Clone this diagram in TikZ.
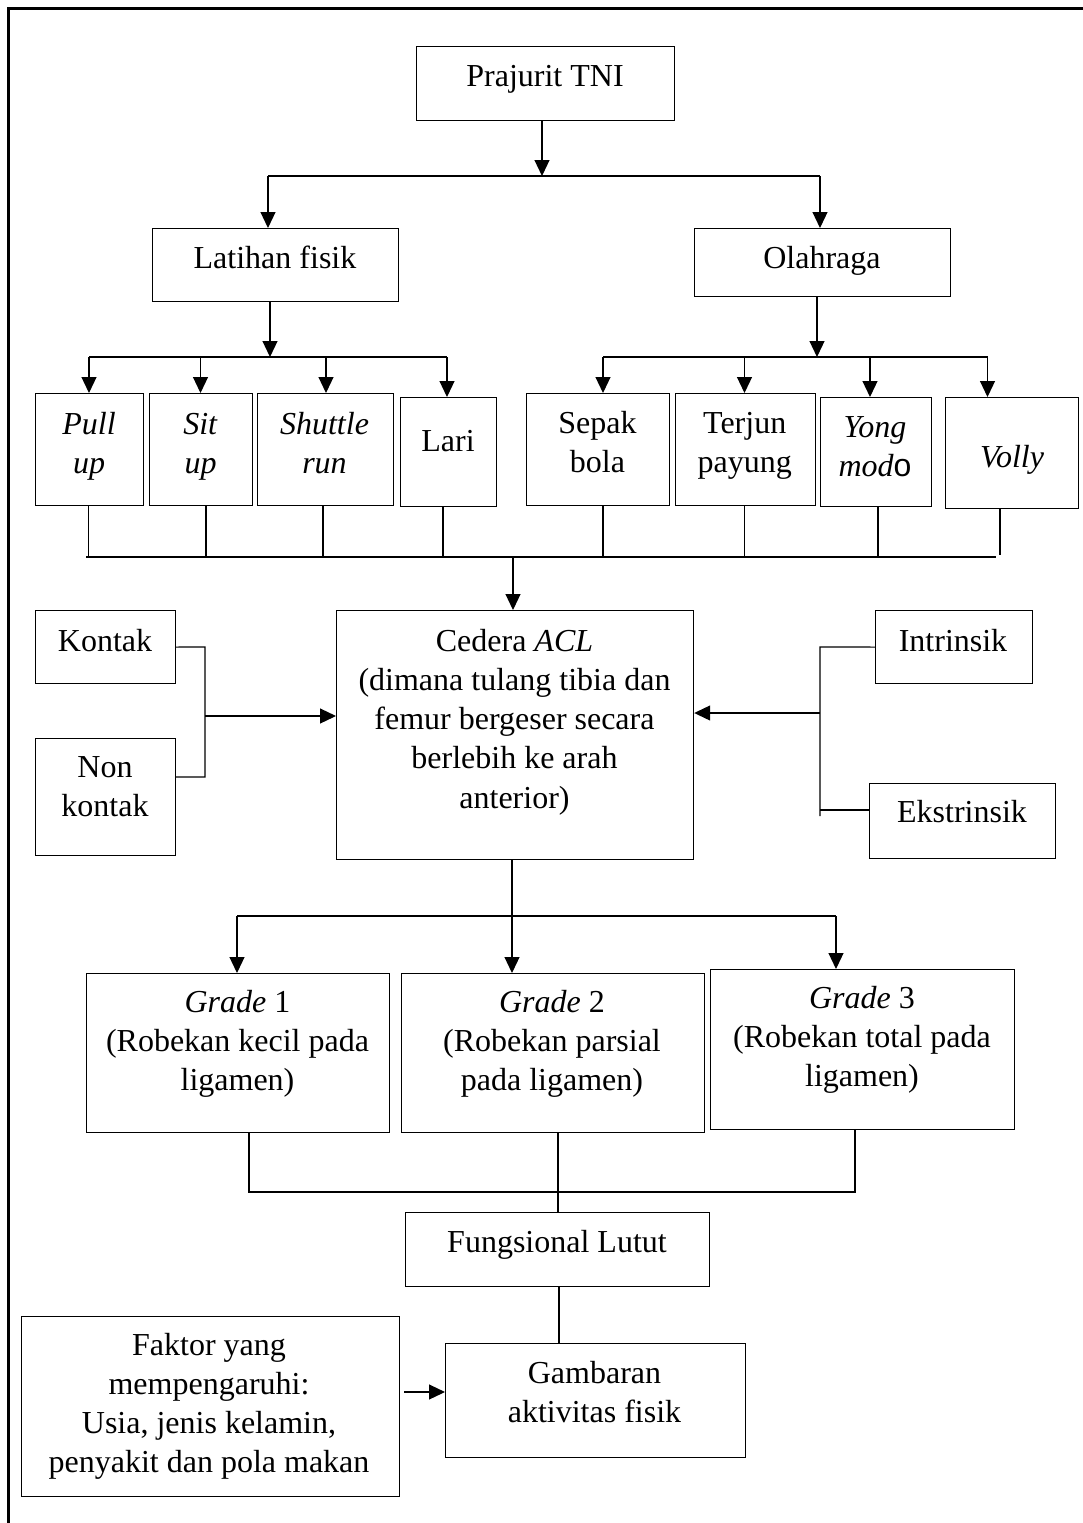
\documentclass[tikz,border=0pt]{standalone}
\usepackage{fontspec}
\setmainfont{Liberation Serif}
\newfontfamily\arialfont{Liberation Sans}
\usetikzlibrary{arrows.meta}
\newcommand\mlines[1]{\begin{tabular}[t]{@{}c@{}}#1\end{tabular}}
\tikzset{
  box/.style={draw, line width=1.2pt, inner sep=0pt, anchor=north west},
  lbl/.style={anchor=base, inner sep=0pt, font=\fontsize{32}{39.25}\selectfont},
  ln/.style={line width=1.2pt},
  arr/.style={line width=1.2pt, -{Triangle[length=16pt,width=15pt]}},
  frameline/.style={line width=2.7pt}
}
\begin{document}
\begin{tikzpicture}[x=1pt,y=-1pt]
\useasboundingbox (0,0) rectangle (1083,1523);
% outer frame (cut off)
\draw[frameline] (8.7,1523) -- (8.7,8.7) -- (1083,8.7);

% boxes
\node[box, minimum width=258pt, minimum height=74pt] (tni) at (416,46) {};
\node[box, minimum width=246pt, minimum height=73pt] (lat) at (152,228) {};
\node[box, minimum width=256pt, minimum height=68pt] (ola) at (694,228) {};
\node[box, minimum width=108pt, minimum height=112pt] (pull) at (35,393) {};
\node[box, minimum width=103pt, minimum height=112pt] (sit) at (149,393) {};
\node[box, minimum width=136pt, minimum height=112pt] (shut) at (256.5,393) {};
\node[box, minimum width=96pt, minimum height=109pt] (lari) at (400,397) {};
\node[box, minimum width=143.5pt, minimum height=112pt] (sepak) at (525.5,393) {};
\node[box, minimum width=139.5pt, minimum height=112pt] (terjun) at (675,393) {};
\node[box, minimum width=111pt, minimum height=109pt] (yong) at (820,397) {};
\node[box, minimum width=133pt, minimum height=111pt] (volly) at (945,397) {};
\node[box, minimum width=357pt, minimum height=249pt] (ced) at (336,610) {};
\node[box, minimum width=140pt, minimum height=73pt] (kon) at (35,610) {};
\node[box, minimum width=140pt, minimum height=117pt] (non) at (35,738) {};
\node[box, minimum width=157pt, minimum height=73pt] (intr) at (875,610) {};
\node[box, minimum width=186pt, minimum height=75pt] (ekst) at (869,783) {};
\node[box, minimum width=303pt, minimum height=159pt] (g1) at (86,973) {};
\node[box, minimum width=303.5pt, minimum height=159pt] (g2) at (400.5,973) {};
\node[box, minimum width=304pt, minimum height=160pt] (g3) at (710,969) {};
\node[box, minimum width=304pt, minimum height=74pt] (fung) at (405,1212) {};
\node[box, minimum width=300pt, minimum height=114pt] (gamb) at (445,1343) {};
\node[box, minimum width=377.5pt, minimum height=180pt] (fak) at (21,1316) {};

% labels
\node[lbl] (tni-t) at (545,86) {Prajurit TNI};
\node[lbl] (lat-t) at (275,268) {Latihan fisik};
\node[lbl] (ola-t) at (822,268) {Olahraga};
\node[lbl] (pull-t) at (89,434) {\mlines{\textit{Pull}\\\textit{up}}};
\node[lbl] (sit-t) at (200.5,434) {\mlines{\textit{Sit}\\\textit{up}}};
\node[lbl] (shut-t) at (324.5,434) {\mlines{\textit{Shuttle}\\\textit{run}}};
\node[lbl] (lari-t) at (448,451) {Lari};
\node[lbl] (sepak-t) at (597.5,433) {\mlines{Sepak\\bola}};
\node[lbl] (terjun-t) at (744.7,433) {\mlines{Terjun\\payung}};
\node[lbl] (yong-t) at (875,437) {\mlines{\textit{Yong}\\\textit{mod}{\arialfont o}}};
\node[lbl] (volly-t) at (1012,467) {\textit{Volly}};
\node[lbl] (ced-t) at (514.5,651) {\mlines{Cedera \textit{ACL}\\(dimana tulang tibia dan\\femur bergeser secara\\berlebih ke arah\\anterior)}};
\node[lbl] (kon-t) at (105,651) {Kontak};
\node[lbl] (non-t) at (105,777) {\mlines{Non\\kontak}};
\node[lbl] (intr-t) at (953,651) {Intrinsik};
\node[lbl] (ekst-t) at (962,822) {Ekstrinsik};
\node[lbl] (g1-t) at (237.5,1012) {\mlines{\textit{Grade} 1\\(Robekan kecil pada\\ligamen)}};
\node[lbl] (g2-t) at (552,1012) {\mlines{\textit{Grade} 2\\(Robekan parsial\\pada ligamen)}};
\node[lbl] (g3-t) at (862,1008) {\mlines{\textit{Grade} 3\\(Robekan total pada\\ligamen)}};
\node[lbl] (fung-t) at (557,1252) {Fungsional Lutut};
\node[lbl] (gamb-t) at (594.5,1383) {\mlines{Gambaran\\aktivitas fisik}};
\node[lbl] (fak-t) at (209,1355) {\mlines{Faktor yang\\mempengaruhi:\\Usia, jenis kelamin,\\penyakit dan pola makan}};

% junction coordinates
\coordinate (j0) at (542,176);
\coordinate (jl) at (268,176);
\coordinate (jr) at (820,176);
\coordinate (k0) at (270,357);
\coordinate (kl) at (89,357);
\coordinate (ks) at (200.5,357);
\coordinate (kt) at (326,357);
\coordinate (kr) at (447,357);
\coordinate (o0) at (817,357);
\coordinate (ol) at (603,357);
\coordinate (ot) at (744.5,357);
\coordinate (oy) at (870,357);
\coordinate (or) at (987.5,357);
\coordinate (bl) at (86,557);
\coordinate (br) at (996,557);
\coordinate (b1) at (88.5,557);
\coordinate (b2) at (206,557);
\coordinate (b3) at (323,557);
\coordinate (b4) at (443,557);
\coordinate (b5) at (603,557);
\coordinate (b6) at (744.5,557);
\coordinate (b7) at (878,557);
\coordinate (b8) at (1000,555);
\coordinate (bc) at (513,557);
\coordinate (lc1) at (205,647);
\coordinate (lc2) at (205,777);
\coordinate (lc3) at (205,716);
\coordinate (rc1) at (820,647);
\coordinate (rc2) at (820,816);
\coordinate (rc3) at (820,713);
\coordinate (rc4) at (820,810);
\coordinate (g0) at (512,916);
\coordinate (gl) at (237,916);
\coordinate (gr) at (836,916);
\coordinate (h1) at (249,1192);
\coordinate (h3) at (855,1192);
\coordinate (h2) at (558,1192);
\coordinate (h4) at (559,1300);
\coordinate (fa) at (404,1392);

% connectors
\draw[arr] (tni.south -| j0) -- (j0);
\draw[ln] (jl) -- (jr);
\draw[arr] (jl) -- (lat.north -| jl);
\draw[arr] (jr) -- (ola.north -| jr);

\draw[arr] (lat.south -| k0) -- (k0);
\draw[ln] (kl) -- (kr);
\draw[arr] (kl) -- (pull.north -| kl);
\draw[arr] (ks) -- (sit.north -| ks);
\draw[arr] (kt) -- (shut.north -| kt);
\draw[arr] (kr) -- (lari.north -| kr);

\draw[arr] (ola.south -| o0) -- (o0);
\draw[ln] (ol) -- (or);
\draw[arr] (ol) -- (sepak.north -| ol);
\draw[arr] (ot) -- (terjun.north -| ot);
\draw[arr] (oy) -- (yong.north -| oy);
\draw[arr] (or) -- (volly.north -| or);

\draw[ln] (bl) -- (br);
\draw[ln] (pull.south -| b1) -- (b1);
\draw[ln] (sit.south -| b2) -- (b2);
\draw[ln] (shut.south -| b3) -- (b3);
\draw[ln] (lari.south -| b4) -- (b4);
\draw[ln] (sepak.south -| b5) -- (b5);
\draw[ln] (terjun.south -| b6) -- (b6);
\draw[ln] (yong.south -| b7) -- (b7);
\draw[ln] (volly.south -| b8) -- (b8);
\draw[arr] (bc) -- (ced.north -| bc);

\draw[ln] (kon.east) -- (lc1) -- (lc2) -- (non.east |- lc2);
\draw[arr] (lc3) -- (ced.west |- lc3);
\draw[ln] (intr.west) -- (rc1) -- (rc2);
\draw[ln] (rc4) -- (ekst.west |- rc4);
\draw[arr] (rc3) -- (ced.east |- rc3);

\draw[ln] (ced.south -| g0) -- (g0);
\draw[ln] (gl) -- (gr);
\draw[arr] (gl) -- (g1.north -| gl);
\draw[arr] (g0) -- (g2.north -| g0);
\draw[arr] (gr) -- (g3.north -| gr);

\draw[ln] (g1.south -| h1) -- (h1) -- (h3) -- (g3.south -| h3);
\draw[ln] (g2.south -| h2) -- (fung.north -| h2);
\draw[ln] (fung.south -| h4) -- (gamb.north -| h4);
\draw[arr] (fa) -- (gamb.west |- fa);
\end{tikzpicture}
\end{document}
